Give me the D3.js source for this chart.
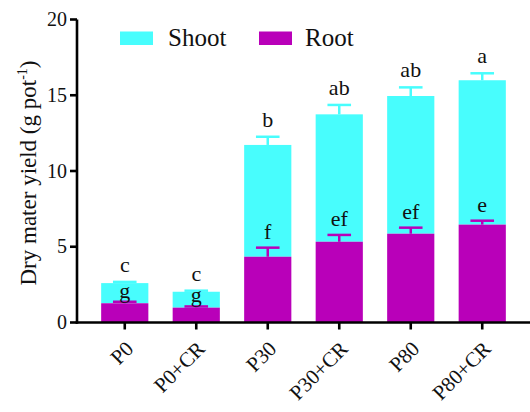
<!DOCTYPE html>
<html><head><meta charset="utf-8">
<script src="https://cdn.jsdelivr.net/npm/d3@7/dist/d3.min.js"></script>
<style>body{margin:0;background:#fff}svg{display:block}</style>
</head><body><svg id="c" width="530" height="412"></svg>
<script>
const categories = ["P0","P0+CR","P30","P30+CR","P80","P80+CR"];
const rootMean  = [1.27, 0.98, 4.34, 5.33, 5.86, 6.46];
const rootErr   = [0.10, 0.08, 0.60, 0.45, 0.40, 0.26];
const shootMean = [1.33, 1.05, 7.38, 8.41, 9.09, 9.53];
const shootErr  = [0.08, 0.07, 0.54, 0.62, 0.57, 0.46];
const rootLetters  = ["g","g","f","ef","ef","e"];
const shootLetters = ["c","c","b","ab","ab","a"];
const yTicks = [0,5,10,15,20];
const colors = {Shoot:"#48fdfd", Root:"#b900b9"};
const FONT = "Liberation Serif";

const svg = d3.select("#c");
const x = d3.scaleBand().domain(categories).range([77,530]).paddingInner(0.34).paddingOuter(0.338);
const y = d3.scaleLinear().domain([0,20]).range([322.5,19.5]);

function txt(parent, tx, ty, str, size, anchor, rot){
  return parent.append("text")
    .attr("transform",`translate(${tx},${ty})` + (rot ? ` rotate(${rot})` : ""))
    .attr("font-family",FONT).attr("font-size",size).attr("fill","#111")
    .attr("text-anchor",anchor||"start").text(str);
}

// x labels first
categories.forEach(c=>{
  const cx = x(c)+x.bandwidth()/2;
  txt(svg, cx+10, 350, c, 21, "end", -45);
});

const g = svg.append("g");
categories.forEach((c,i)=>{
  const total = rootMean[i]+shootMean[i];
  const cx = x(c)+x.bandwidth()/2, cw = x.bandwidth()*0.25;
  g.append("rect").attr("x",x(c)).attr("width",x.bandwidth())
    .attr("y",y(total)).attr("height",y(rootMean[i])-y(total)).attr("fill",colors.Shoot);
  g.append("line").attr("x1",cx).attr("x2",cx).attr("y1",y(total)).attr("y2",y(total+shootErr[i]))
    .attr("stroke",colors.Shoot).attr("stroke-width",2.5);
  g.append("line").attr("x1",cx-cw).attr("x2",cx+cw).attr("y1",y(total+shootErr[i])).attr("y2",y(total+shootErr[i]))
    .attr("stroke",colors.Shoot).attr("stroke-width",2.5);
  g.append("rect").attr("x",x(c)).attr("width",x.bandwidth())
    .attr("y",y(rootMean[i])).attr("height",y(0)-y(rootMean[i])).attr("fill",colors.Root);
  g.append("line").attr("x1",cx).attr("x2",cx).attr("y1",y(rootMean[i])).attr("y2",y(rootMean[i]+rootErr[i]))
    .attr("stroke",colors.Root).attr("stroke-width",2.5);
  g.append("line").attr("x1",cx-cw).attr("x2",cx+cw).attr("y1",y(rootMean[i]+rootErr[i])).attr("y2",y(rootMean[i]+rootErr[i]))
    .attr("stroke",colors.Root).attr("stroke-width",2.5);
  txt(g, cx, y(total+shootErr[i])-10, shootLetters[i], 22, "middle");
  txt(g, cx, y(rootMean[i]+rootErr[i])-(i<2?4:9), rootLetters[i], 22, "middle");
});

// axes drawn from the scales
const ax = svg.append("g").attr("stroke","#000").attr("stroke-width",2.6);
ax.append("line").attr("x1",77).attr("x2",77).attr("y1",y(0)+1.3).attr("y2",y(20));
ax.append("line").attr("x1",75.7).attr("x2",530).attr("y1",y(0)).attr("y2",y(0));
yTicks.forEach(t=>{
  ax.append("line").attr("x1",70).attr("x2",77).attr("y1",y(t)).attr("y2",y(t));
  txt(svg, 67, y(t)+6.5, String(t), 20, "end");
});
categories.forEach(c=>{
  const cx = x(c)+x.bandwidth()/2;
  ax.append("line").attr("x1",cx).attr("x2",cx).attr("y1",y(0)).attr("y2",y(0)+7);
});

// y title
const tt = txt(svg, 36, 173, "", 23, "middle", -90);
tt.append("tspan").text("Dry mater yield (g pot");
tt.append("tspan").attr("dy",-9).attr("font-size",14).text("-1");
tt.append("tspan").attr("dy",9).text(")");

// legend
const leg = [{n:"Shoot",x:120,tx:168},{n:"Root",x:259,tx:305}];
leg.forEach(l=>{
  svg.append("rect").attr("x",l.x).attr("y",31.5).attr("width",33).attr("height",13.5).attr("fill",colors[l.n]);
  txt(svg, l.tx, 46, l.n, 25);
});
</script></body></html>
